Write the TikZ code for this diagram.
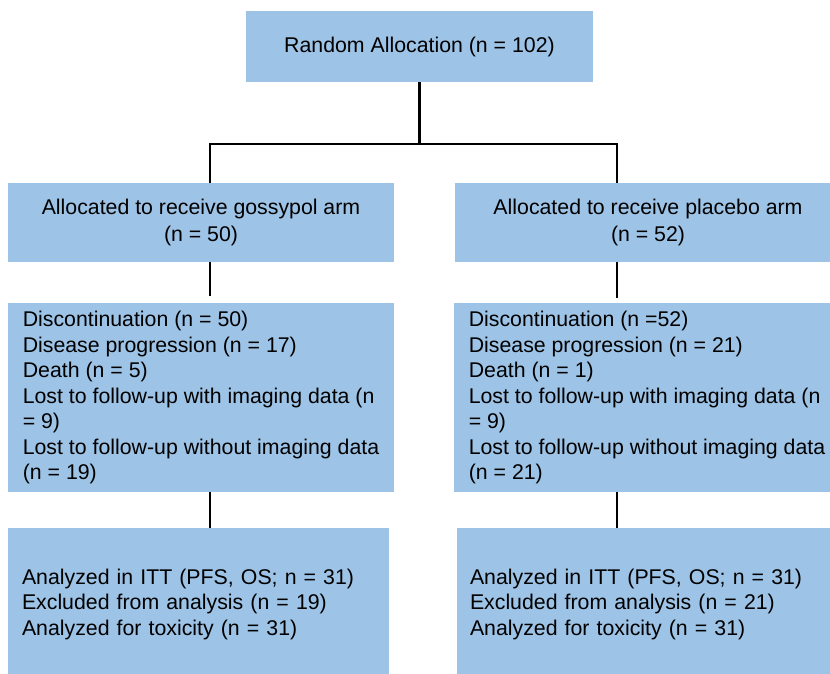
\documentclass[tikz,border=0pt]{standalone}
\usepackage{fontspec}
\setmainfont{Liberation Sans}
\definecolor{boxblue}{HTML}{9DC3E6}

\begin{document}
\begin{tikzpicture}[
    x=1pt, y=-1pt,
    box/.style={fill=boxblue, draw=none, inner sep=0pt,
                font=\fontsize{21.3}{25.5}\selectfont},
    arm/.style={box, minimum width=386pt, minimum height=79pt, align=center},
    list/.style={box, minimum width=386pt, align=left},
    result/.style={box, text width=353pt, inner xsep=14pt, align=left},
    link/.style={line width=2.7pt, black},
]
\useasboundingbox (0,0) rectangle (830,674);
\clip (0,0) rectangle (830,674);

% --- Allocation ---
\node[box, minimum width=347pt, minimum height=71pt] (alloc) at (419.5,46.5)
    {Random Allocation (n = 102)};

% --- Arms ---
\node[arm] (gos) at (201,222.5) {Allocated to receive gossypol arm\\[1.5pt](n = 50)};
\node[arm] (pla) at (648,222.5) {Allocated to receive placebo arm\\[1.5pt](n = 52)};

% --- Discontinuation ---
\node[list, minimum height=189pt] (gosdisc) at (201,397.5)
    {Discontinuation (n = 50)\\Disease progression (n = 17)\\Death (n = 5)\\
     Lost to follow-up with imaging data (n\\= 9)\\
     Lost to follow-up without imaging data\\(n = 19)};
\node[list, minimum height=189pt] (pladisc) at (647,397.5)
    {Discontinuation (n =52)\\Disease progression (n = 21)\\Death (n = 1)\\
     Lost to follow-up with imaging data (n\\= 9)\\
     Lost to follow-up without imaging data\\(n = 21)};

% --- Analysis ---
\node[result, minimum height=152pt] (gosana) at (198.5,604)
    {Analyzed in ITT (PFS, OS; n = 31)\\Excluded from analysis (n = 19)\\
     Analyzed for toxicity (n = 31)};
\node[result, inner xsep=13pt, minimum height=152pt] (plaana) at (646.5,604)
    {Analyzed in ITT (PFS, OS; n = 31)\\Excluded from analysis (n = 21)\\
     Analyzed for toxicity (n = 31)};

% --- Connectors ---
\coordinate (jl) at (210,144);
\coordinate (jr) at (617,144);
\draw[link] (alloc.south) -- (alloc.south |- jl);
\draw[link] (gos.north -| jl) -- (jl) -- (jr) -- (pla.north -| jr);
\draw[link, shorten >=7pt] (gos.south -| jl) -- (gosdisc.north -| jl);
\draw[link, shorten >=5pt] (pla.south -| jr) -- (pladisc.north -| jr);
\draw[link] (gosdisc.south -| jl) -- (gosana.north -| jl);
\draw[link] (pladisc.south -| jr) -- (plaana.north -| jr);

\end{tikzpicture}
\end{document}
